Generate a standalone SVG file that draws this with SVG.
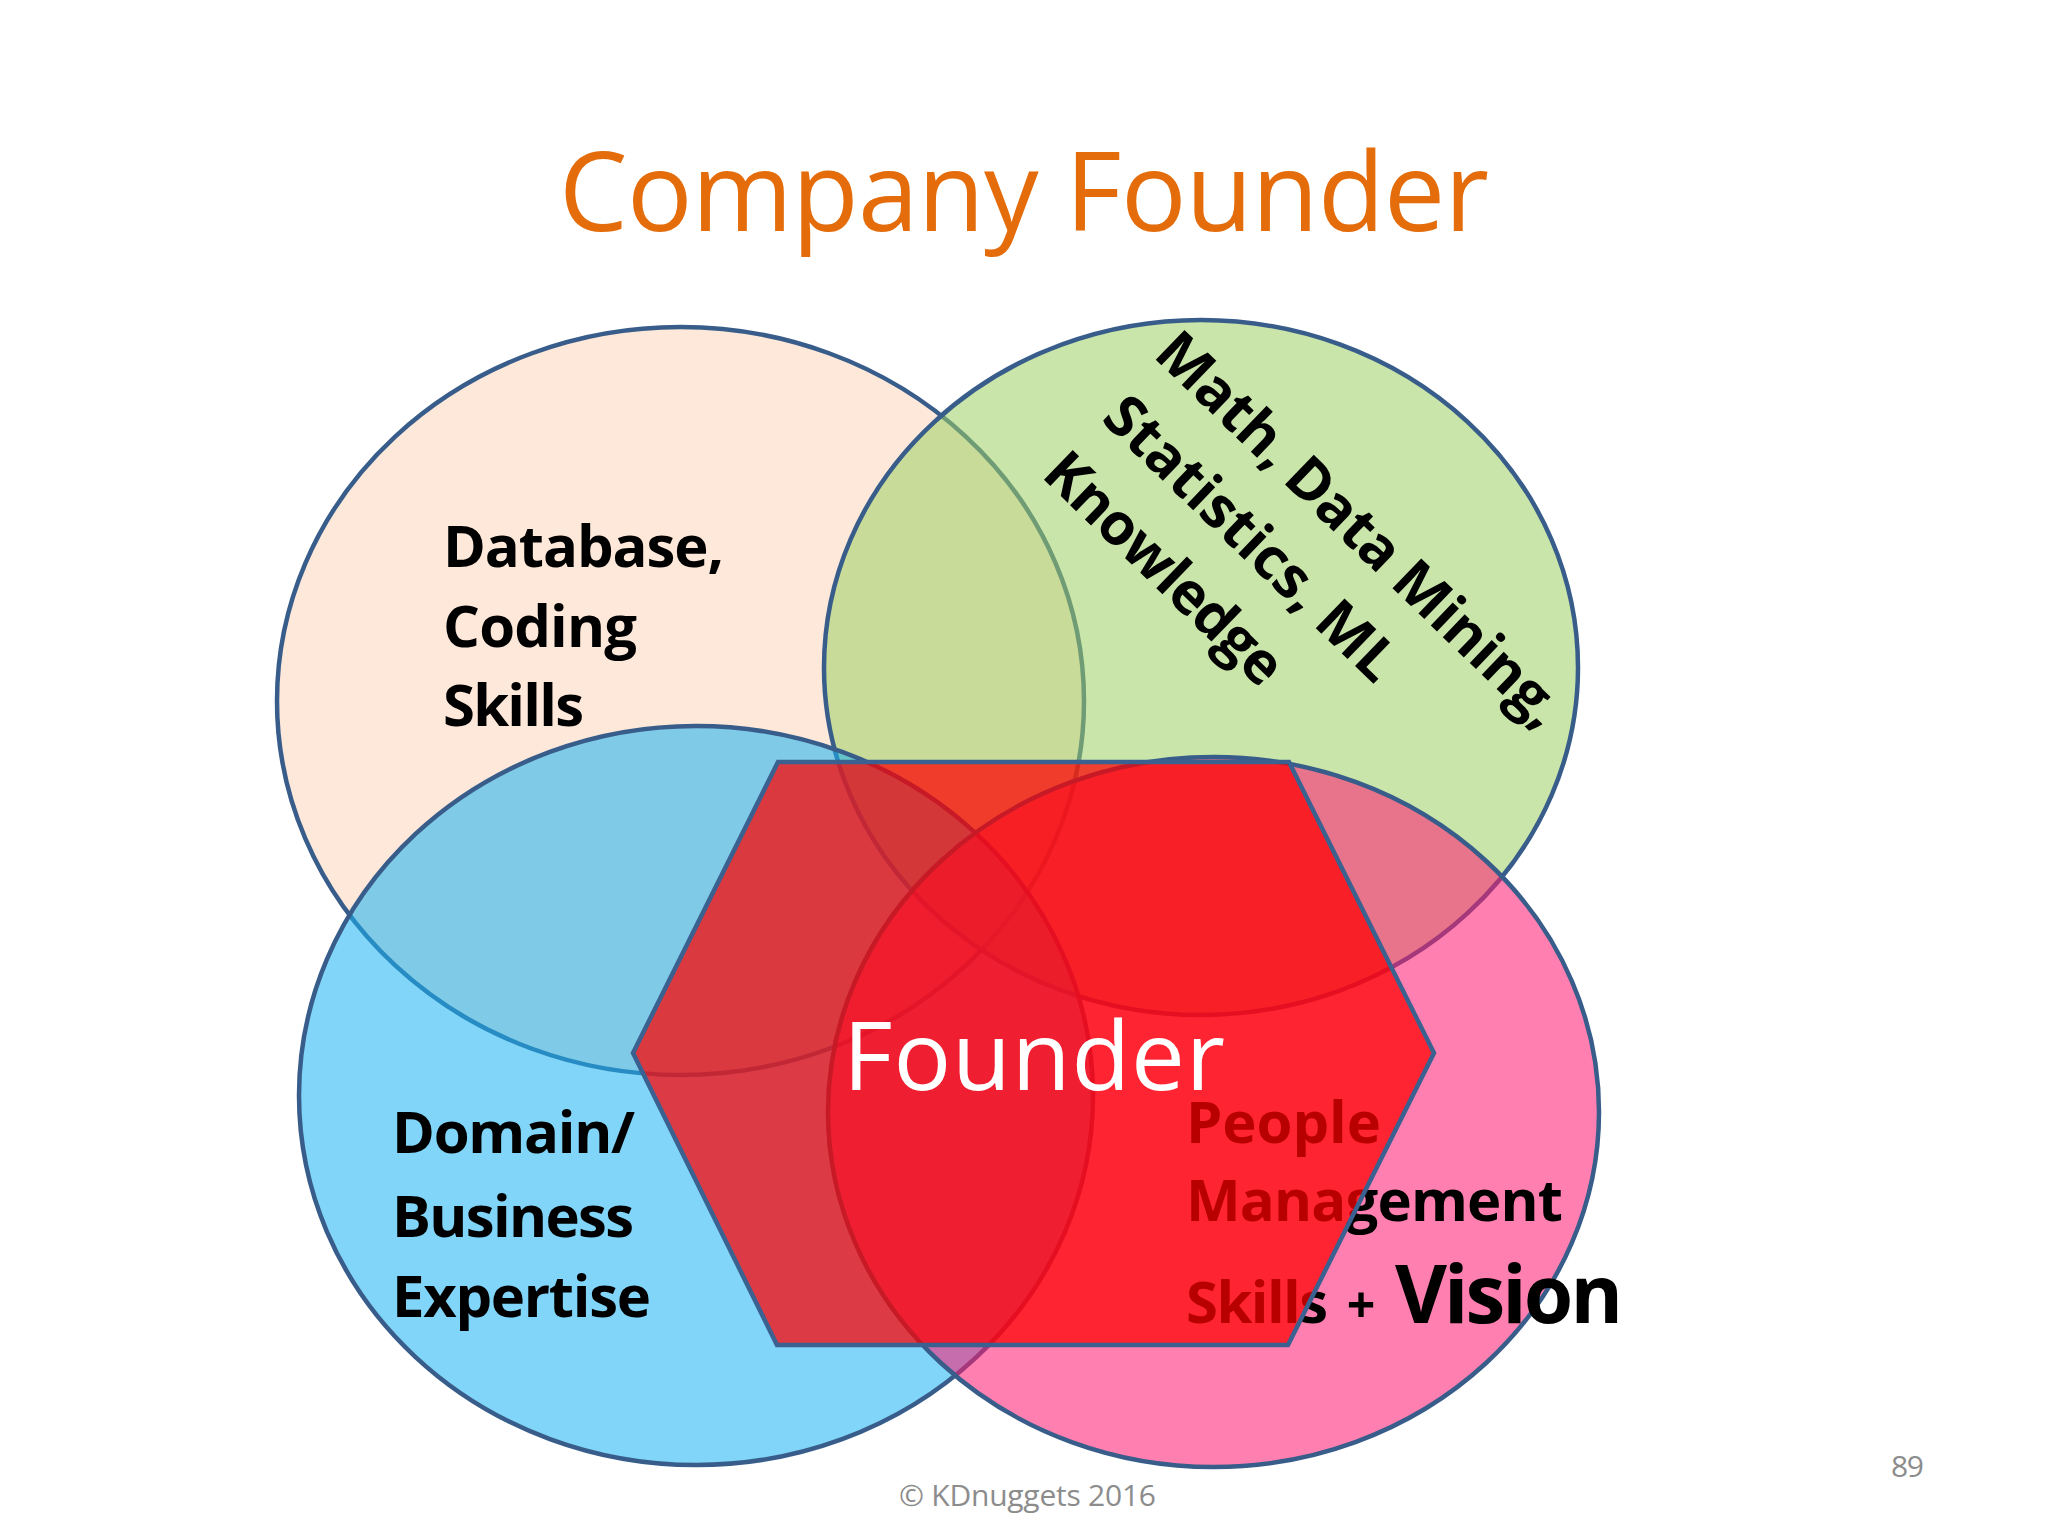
<svg xmlns="http://www.w3.org/2000/svg" width="2048" height="1536" viewBox="0 0 2048 1536">
  <style>
    .ring { stroke: #385D8A; stroke-width: 4.5; }
    .lbl { font-family: "Open Sans", "Liberation Sans", sans-serif; font-weight: bold; font-size: 58px; fill: #000000; }
    .reg { font-family: "Open Sans", "Liberation Sans", sans-serif; }
  </style>
  <rect x="0" y="0" width="2048" height="1536" fill="#FFFFFF"/>
  <text id="title" class="reg" x="559" y="231" font-size="109" fill="#E46C0A" textLength="930">Company Founder</text>

  <g id="database-coding">
    <ellipse class="ring" cx="680.5" cy="701" rx="403.5" ry="374" fill="#FDE8DA"/>
    <text class="lbl" x="443" y="567" textLength="281">Database,</text>
    <text class="lbl" x="443" y="647" textLength="194">Coding</text>
    <text class="lbl" x="443" y="726" textLength="141">Skills</text>
  </g>

  <g id="math-statistics">
    <ellipse class="ring" cx="1201" cy="667.5" rx="377" ry="347.5" fill="#9CCF64" fill-opacity="0.55"/>
    <g transform="rotate(44)">
      <text class="lbl" x="1076" y="-544" textLength="540">Math, Data Mining,</text>
      <text class="lbl" x="1083" y="-462" textLength="382">Statistics, ML</text>
      <text class="lbl" x="1079" y="-380" textLength="307">Knowledge</text>
    </g>
  </g>

  <g id="domain-business">
    <ellipse class="ring" cx="696" cy="1095.5" rx="397" ry="369.5" fill="#18B2F2" fill-opacity="0.55"/>
    <text class="lbl" x="392" y="1153" textLength="243">Domain/</text>
    <text class="lbl" x="392" y="1237" textLength="242">Business</text>
    <text class="lbl" x="392" y="1317" textLength="259">Expertise</text>
  </g>

  <g id="people-management">
    <ellipse class="ring" cx="1213.5" cy="1112" rx="385.5" ry="355" fill="#FF186F" fill-opacity="0.55"/>
    <text class="lbl" x="1186" y="1143" textLength="195">People</text>
    <text class="lbl" x="1186" y="1221" textLength="377">Management</text>
    <text class="lbl" x="1186" y="1323" textLength="142">Skills</text>
    <text class="lbl" x="1361" y="1323" style="font-size:50px" text-anchor="middle">+</text>
    <text class="lbl" x="1395" y="1323" style="font-size:80px" textLength="228">Vision</text>
  </g>

  <g id="founder">
    <polygon points="778,762 1289,762 1434,1053 1288,1345 777,1345 633,1053" fill="#FF0000" fill-opacity="0.72" stroke="#3A6190" stroke-width="4.5" stroke-linejoin="miter"/>
    <text class="reg" x="843" y="1090" font-size="96" fill="#FFFFFF" textLength="382">Founder</text>
  </g>

  <g id="connectors"></g>

  <text id="footer" class="reg" x="899" y="1506" font-size="30" fill="#8C8C8C" textLength="257">© KDnuggets 2016</text>
  <text id="page-number" class="reg" x="1891" y="1477" font-size="30" fill="#8C8C8C" textLength="33">89</text>
</svg>
